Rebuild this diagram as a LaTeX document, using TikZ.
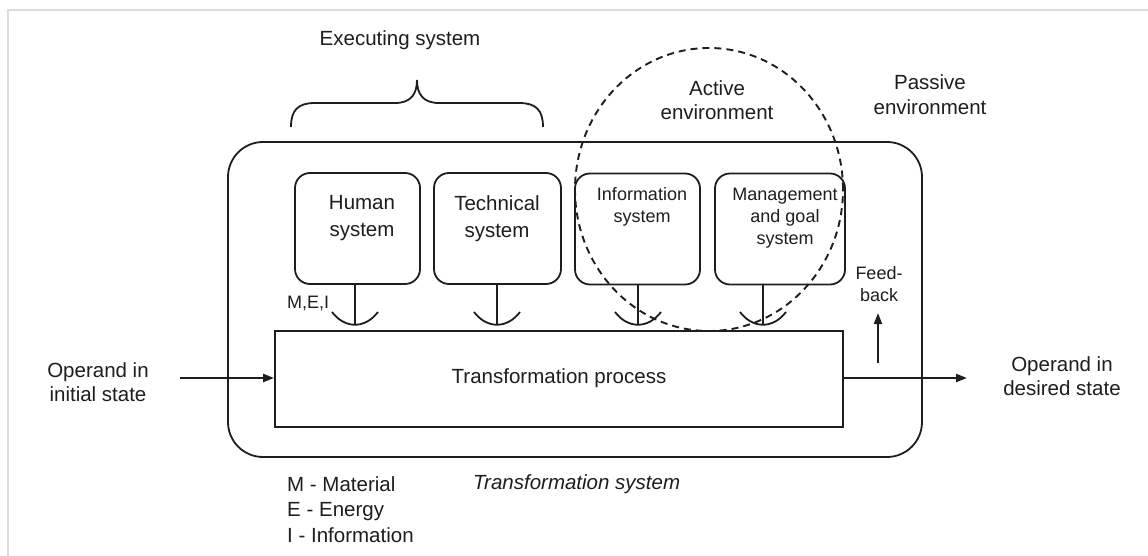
\documentclass[tikz,border=0pt]{standalone}
\usepackage{fontspec}
\setmainfont{Liberation Sans}
\usetikzlibrary{arrows.meta,calc,shapes.geometric}
\definecolor{inkc}{RGB}{30,30,30}
\definecolor{framec}{RGB}{220,220,220}
\begin{document}
\begin{tikzpicture}[x=1pt,y=-1pt,
  ink/.style={draw=inkc, line width=1.8pt},
  sysbox/.style={ink, rounded corners=15pt, minimum height=111pt, inner sep=0pt},
  txt/.style={text=inkc, font=\fontsize{20.5}{24.5}\selectfont, align=center, inner sep=0pt},
  stxt/.style={text=inkc, font=\fontsize{18}{22}\selectfont, align=center, inner sep=0pt},
  flow/.style={draw=inkc, line width=2.2pt, -{Triangle[length=11pt,width=8pt]}},
  envline/.style={draw=inkc, line width=1.9pt, dash pattern=on 7pt off 5pt}]
\useasboundingbox (0,0) rectangle (1148,556);
\fill[white] (0,0) rectangle (1148,556);
% light frame
\draw[framec, line width=2pt] (8,556) -- (8,10) -- (1148,10);

% transformation system
\node[ink, rounded corners=35pt, minimum width=694pt, minimum height=315pt, inner sep=0pt] (ts) at (575,299.5) {};
% transformation process
\node[ink, minimum width=568pt, minimum height=96pt, inner sep=0pt] (proc) at (559,379) {};
\node[txt] (proctxt) at (559,378) {Transformation process};

% subsystem boxes
\node[sysbox, minimum width=125pt] (hs) at (357.5,228.5) {};
\node[sysbox, minimum width=127pt] (tcs) at (497.5,228.5) {};
\node[sysbox, minimum width=125pt] (is) at (637.5,229) {};
\node[sysbox, minimum width=130pt] (ms) at (780,229) {};
\node[txt, font=\fontsize{20.5}{27}\selectfont] (hst) at (362,218.5) {Human\\system};
\node[txt, font=\fontsize{20.5}{27}\selectfont] (tst) at (497,218.5) {Technical\\system};
\node[stxt] (ist) at (642,207) {Information\\system};
\node[stxt] (mst) at (785,218) {Management\\and goal\\system};

% stems and cups
\coordinate (c1) at (355,325);
\coordinate (c2) at (497,325);
\coordinate (c3) at (638,325);
\coordinate (c4) at (763,325);
\foreach \c/\b in {c1/hs, c2/tcs, c3/is, c4/ms}{
  \draw[ink] (\b.south -| \c) -- (\c);
  \draw[ink] ($(\c)+(-23,-13)$) .. controls ($(\c)+(-10,4)$) and ($(\c)+(10,4)$) .. ($(\c)+(23,-13)$);
}
\node[stxt, anchor=west] (mei) at (287,303) {M,E,I};

% active environment
\node[envline, ellipse, minimum width=268pt, minimum height=283pt, inner sep=0pt] (act) at (709,189.5) {};
\node[txt] (acttxt) at (717,100) {Active\\environment};

% passive environment
\node[txt] (pastxt) at (930,94.5) {Passive\\environment};

% executing system brace
\draw[ink] (291,127) .. controls (291,110) and (298,103) .. (315,103) -- (395,103)
  .. controls (410,103) and (417,95) .. (417,80)
  .. controls (417,95) and (424,103) .. (439,103) -- (519,103)
  .. controls (536,103) and (543,110) .. (543,127);
\node[txt] (exec) at (400,40) {Executing system};

% operand flows
\node[txt] (inlab) at (98,382) {Operand in\\initial state};
\coordinate (inS) at (180,378);
\draw[flow] (inS) -- (inS -| proc.west);
\node[txt] (outlab) at (1062,376) {Operand in\\desired state};
\coordinate (outE) at (967,378);
\draw[flow] (outE -| proc.east) -- (outE);

% feedback
\coordinate (fbS) at (878,363);
\coordinate (fbE) at (878,313);
\draw[flow, line width=2pt] (fbS) -- (fbE);
\node[stxt] (fbtxt) at (879,284) {Feed-\\back};

% legend
\node[txt, align=left, anchor=west, font=\fontsize{20.5}{25.5}\selectfont] (legend) at (287,509.5) {M - Material\\E - Energy\\I - Information};
\node[txt, anchor=west, font=\fontsize{20.5}{24.5}\selectfont\itshape] (tstxt) at (473,484) {Transformation system};
\end{tikzpicture}
\end{document}
